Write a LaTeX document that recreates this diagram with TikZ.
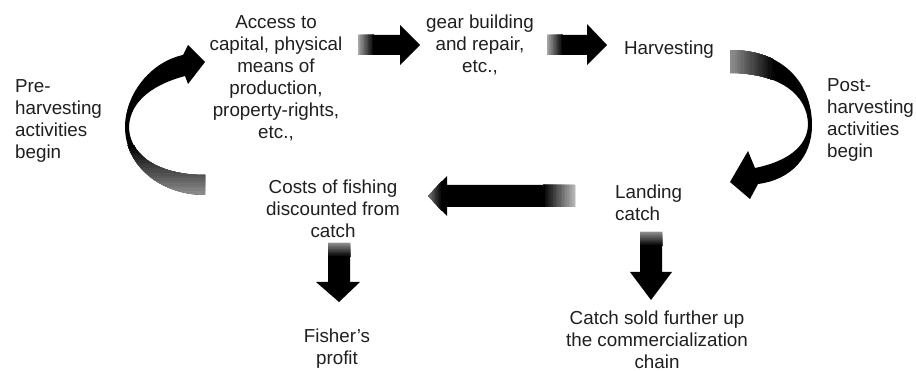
\documentclass[tikz,border=0pt]{standalone}
\usepackage{fontspec}
\setmainfont{Liberation Sans}
% horizontal gradient: #1 light x, #2 dark x, #3 y1, #4 y2, #5 light percentage of black
\newcommand\hgradfill[5]{%
  \foreach \i in {0,...,19}{%
    \pgfmathtruncatemacro\gc{#5+(100-#5)*\i/19}%
    \fill[black!\gc] ({#1+(#2-#1)*\i/20},#3) rectangle (#2,#4);}}
% vertical gradient: #1 light y, #2 dark y, #3 x1, #4 x2, #5 light percentage
\newcommand\vgradfill[5]{%
  \foreach \i in {0,...,19}{%
    \pgfmathtruncatemacro\gc{#5+(100-#5)*\i/19}%
    \fill[black!\gc] (#3,{#1+(#2-#1)*\i/20}) rectangle (#4,#2);}}
\begin{document}
\begin{tikzpicture}[x=1pt,y=-1pt,
  lbl/.style={inner sep=0pt, font=\fontsize{18.8}{22}\selectfont, text=black!88},
  blk/.style={fill=black},
]
\path[use as bounding box, fill=white] (0,0) rectangle (916,371);

% text nodes
\node[lbl, align=left, anchor=west] (pre) at (15,121) {Pre-\\harvesting\\activities\\begin};
\node[lbl, align=center] (access) at (276,78) {Access to\\capital, physical\\means of\\production,\\property-rights,\\etc.,};
\node[lbl, align=center] (gear) at (480,45) {gear building\\and repair,\\etc.,};
\node[lbl, align=center] (harv) at (669,50) {Harvesting};
\node[lbl, align=left, anchor=west] (post) at (827,120) {Post-\\harvesting\\activities\\begin};
\node[lbl, align=left, anchor=west] (land) at (615,203) {Landing\\catch};
\node[lbl, align=center] (costs) at (333,209) {Costs of fishing\\discounted from\\catch};
\node[lbl, align=center] (profit) at (337,349) {Fisher’s\\profit};
\node[lbl, align=center] (sold) at (657,340) {Catch sold further up\\the commercialization\\chain};

% arrow A: access -> gear
\path[blk, path picture={\hgradfill{358}{374}{20}{70}{35}}]
  (358,35) -- (400,35) -- (400,25) -- (420,45) -- (400,65) -- (400,55) -- (358,55) -- cycle;
% arrow B: gear -> harvesting
\path[blk, path picture={\hgradfill{547}{563}{20}{70}{35}}]
  (547,35) -- (587,35) -- (587,24) -- (607,45) -- (587,65) -- (587,55) -- (547,55) -- cycle;
% arrow C: harvesting -> landing (curved)
\path[blk, path picture={\hgradfill{730}{775}{45}{80}{45}}]
  (730,50) .. controls (785,50) and (812,85) .. (812,125)
  .. controls (812,158) and (790,180) .. (758,184)
  -- (750,199) -- (730,182) -- (748,151) -- (755,168)
  .. controls (785,162) and (807,148) .. (808,125)
  .. controls (808,95) and (780,73) .. (730,73) -- cycle;
% arrow D: landing -> costs
\path[blk, path picture={\hgradfill{575}{543}{170}{220}{30}\hgradfill{428}{442}{170}{220}{55}}]
  (575,185) -- (447,185) -- (447,176) -- (428,196) -- (447,216) -- (447,207) -- (575,207) -- cycle;
% arrow E: costs side -> access (curved)
\path[blk, path picture={\vgradfill{196}{145}{110}{212}{45}}]
  (205,195) .. controls (160,195) and (125,165) .. (125,127)
  .. controls (125,95) and (150,62) .. (183,55)
  -- (188,45) -- (205,62) -- (188,84) -- (185,76)
  .. controls (155,84) and (130,100) .. (129,127)
  .. controls (130,160) and (165,175) .. (205,175) -- cycle;
% arrow F: costs -> profit
\path[blk, path picture={\vgradfill{243}{257}{320}{356}{45}}]
  (328,243) -- (350,243) -- (350,282) -- (360,282) -- (339,302) -- (316,282) -- (328,282) -- cycle;
% arrow G: landing -> sold
\path[blk, path picture={\vgradfill{232}{246}{636}{666}{45}}]
  (640,232) -- (662,232) -- (662,272) -- (672,272) -- (651,300) -- (630,272) -- (640,272) -- cycle;
\end{tikzpicture}
\end{document}
